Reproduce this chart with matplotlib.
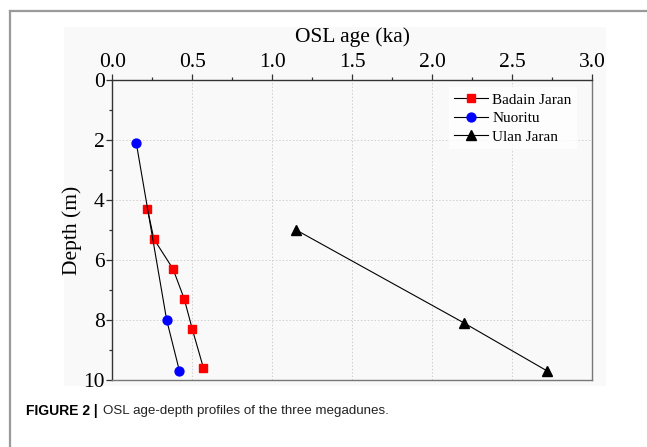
import numpy as np
import matplotlib
matplotlib.use('Agg')
import matplotlib.pyplot as plt
from matplotlib.patches import Rectangle
from matplotlib.lines import Line2D
from matplotlib.ticker import MultipleLocator, FormatStrFormatter

# OSL age (ka) vs depth (m)
badain_age = [0.22, 0.26, 0.38, 0.45, 0.50, 0.57]
badain_depth = [4.3, 5.3, 6.3, 7.3, 8.3, 9.6]
nuoritu_age = [0.15, 0.34, 0.42]
nuoritu_depth = [2.1, 8.0, 9.7]
ulan_age = [1.15, 2.2, 2.72]
ulan_depth = [5.0, 8.1, 9.7]

W, H = 647, 447
fig = plt.figure(figsize=(W / 100, H / 100), dpi=100)

# page frame (top + left rule)
fig.add_artist(Line2D([10 / W, 1], [1 - 10.5 / H, 1 - 10.5 / H], color='#9a9a9a', lw=1.6))
fig.add_artist(Line2D([10 / W, 10 / W], [0, 1 - 10.5 / H], color='#9a9a9a', lw=1.6))
# light grey panel behind the plot
fig.add_artist(Rectangle((64 / W, 1 - 386 / H), (606 - 64) / W, (386 - 27) / H,
                         facecolor='#f9f9f9', edgecolor='none', zorder=0))

ax = fig.add_axes([112.3 / W, 1 - 380 / H, (592 - 112.3) / W, 300 / H])
ax.set_facecolor('#f9f9f9')

ax.plot(badain_age, badain_depth, '-s', color='black', lw=0.8, mfc='red', mec='red',
        ms=5.8, label='Badain Jaran')
ax.plot(nuoritu_age, nuoritu_depth, '-o', color='black', lw=0.8, mfc='blue', mec='blue',
        ms=6.4, label='Nuoritu')
ax.plot(ulan_age, ulan_depth, '-^', color='black', lw=0.8, mfc='black', mec='black',
        ms=7, label='Ulan Jaran')

ax.set_xlim(0, 3)
ax.set_ylim(10, 0)
ax.xaxis.set_major_locator(MultipleLocator(0.5))
ax.xaxis.set_minor_locator(MultipleLocator(0.25))
ax.yaxis.set_major_locator(MultipleLocator(2))
ax.yaxis.set_minor_locator(MultipleLocator(1))
ax.xaxis.tick_top()
ax.xaxis.set_label_position('top')
ax.xaxis.set_major_formatter(FormatStrFormatter('%.1f'))

tfont = {'family': 'Liberation Serif', 'size': 15.5}
for lab in ax.get_xticklabels() + ax.get_yticklabels():
    lab.set_fontfamily('Liberation Serif')
    lab.set_fontsize(15.5)
ax.tick_params(which='major', direction='out', length=4, width=0.9, color='#333333', pad=1.5)
ax.tick_params(which='minor', direction='out', length=2.5, width=0.9, color='#333333')
ax.set_xlabel('OSL age (ka)', fontdict=tfont, labelpad=8)
ax.set_ylabel('Depth (m)', fontdict=tfont, labelpad=1)

for s in ['top', 'left']:
    ax.spines[s].set_color('#333333')
for s in ['bottom', 'right']:
    ax.spines[s].set_color('#777777')
for s in ax.spines.values():
    s.set_linewidth(1.0)

ax.grid(True, which='major', linestyle=(0, (1.5, 2)), color='#cfcfcf', lw=0.7)
ax.set_axisbelow(True)

leg = ax.legend(loc='upper right', bbox_to_anchor=(0.969, 0.975), frameon=True,
                prop={'family': 'Liberation Serif', 'size': 11},
                handlelength=2.2, handletextpad=0.3, labelspacing=0.32,
                borderpad=0.35, borderaxespad=0, fancybox=False)
leg.get_frame().set_facecolor('white')
leg.get_frame().set_edgecolor('none')

fig.text(26 / W, 1 - 411 / H, 'FIGURE 2 |', family='Liberation Sans', weight='bold',
         size=10, va='center', ha='left')
fig.text(103 / W, 1 - 411 / H, 'OSL age-depth profiles of the three megadunes.',
         family='Liberation Sans', size=9.6, va='center', ha='left', color='#222222')

fig.savefig('out.png', dpi=100)
